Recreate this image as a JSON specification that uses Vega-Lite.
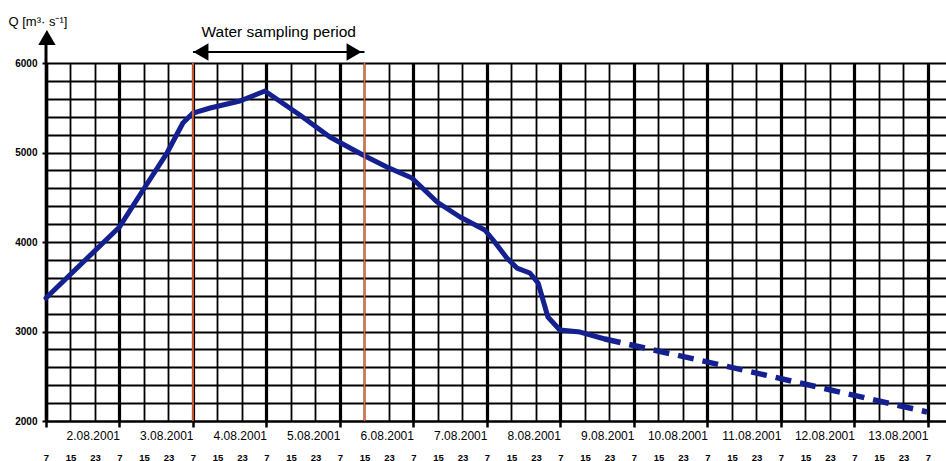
{
  "$schema": "https://vega.github.io/schema/vega-lite/v6.json",
  "autosize": "none",
  "width": 900,
  "height": 358,
  "padding": {"left": 46, "top": 63, "right": 0, "bottom": 40},
  "background": "white",
  "config": {"view": {"stroke": null}, "font": "Liberation Sans"},
  "datasets": {
    "solid": [
      {"h": 0, "q": 3374}, {"h": 24, "q": 4168}, {"h": 31.7, "q": 4581}, {"h": 39.5, "q": 4994},
      {"h": 44.7, "q": 5330}, {"h": 48, "q": 5441}, {"h": 53.6, "q": 5497}, {"h": 63.3, "q": 5575},
      {"h": 71.5, "q": 5687}, {"h": 82.9, "q": 5419}, {"h": 92.7, "q": 5173}, {"h": 103.5, "q": 4972},
      {"h": 111.3, "q": 4838}, {"h": 119.5, "q": 4715}, {"h": 127.7, "q": 4447}, {"h": 135.2, "q": 4279},
      {"h": 143.3, "q": 4134}, {"h": 146, "q": 4022}, {"h": 150.5, "q": 3821}, {"h": 153.8, "q": 3709},
      {"h": 158, "q": 3654}, {"h": 160.7, "q": 3542}, {"h": 163.9, "q": 3162}, {"h": 167.8, "q": 3017},
      {"h": 174.4, "q": 2994}, {"h": 182.5, "q": 2916}
    ],
    "dashed": [
      {"h": 182.5, "q": 2916}, {"h": 227.6, "q": 2570}, {"h": 287.7, "q": 2101}
    ],
    "sampling": [{"h": 48}, {"h": 104}],
    "span": [{"h": 48, "h2": 104, "q": 6123}],
    "heads": [
      {"h": 50.6, "q": 6123, "shape": "triangle-left"},
      {"h": 100.6, "q": 6123, "shape": "triangle-right"},
      {"h": 0.3, "q": 6285, "shape": "triangle-up"}
    ],
    "yarrow": [{"h": 0, "q": 6000, "q2": 6250}],
    "label": [{"h": 76, "q": 6290, "text": "Water sampling period"}]
  },
  "resolve": {"axis": {"x": "independent", "y": "independent"}},
  "layer": [
    {
      "data": {"name": "solid"},
      "mark": {"type": "line", "color": "#14208f", "strokeWidth": 5, "strokeJoin": "round", "strokeCap": "round"},
      "encoding": {
        "x": {"field": "h", "type": "quantitative",
          "scale": {"domain": [0, 293.9], "nice": false, "zero": false},
          "axis": {"orient": "bottom", "values": [0,8,16,24,32,40,48,56,64,72,80,88,96,104,112,120,128,136,144,152,160,168,176,184,192,200,208,216,224,232,240,248,256,264,272,280,288],
            "grid": true, "gridColor": "#000", "gridWidth": 1.8, "gridOpacity": 1,
            "domain": false, "ticks": false, "tickSize": 0, "labelPadding": 31, "labelBaseline": "top",
            "labelFont": "Liberation Sans", "labelFontSize": 9.5, "labelFontWeight": "bold", "labelColor": "#000",
            "labelAlign": "center", "labelOverlap": false, "labelFlush": false,
            "labelExpr": "datum.value % 24 == 0 ? '7' : (datum.value % 24 == 8 ? '15' : '23')",
            "title": null}},
        "y": {"field": "q", "type": "quantitative",
          "scale": {"domain": [2000, 6000], "nice": false, "zero": false},
          "axis": {"orient": "left", "values": [2000,2200,2400,2600,2800,3000,3200,3400,3600,3800,4000,4200,4400,4600,4800,5000,5200,5400,5600,5800,6000],
            "grid": true, "gridColor": "#000", "gridWidth": 1.8, "gridOpacity": 1,
            "domain": false, "ticks": false, "labels": false, "title": null}}
      }
    },
    {
      "data": {"name": "dashed"},
      "mark": {"type": "line", "color": "#14208f", "strokeWidth": 5.5, "strokeDash": [16, 9]},
      "encoding": {
        "x": {"field": "h", "type": "quantitative",
          "axis": {"orient": "bottom", "values": [0,24,48,72,96,120,144,168,192,216,240,264,288],
            "grid": true, "gridColor": "#000", "gridWidth": 3.2, "gridOpacity": 1,
            "domain": true, "domainColor": "#000", "domainWidth": 2,
            "ticks": true, "tickSize": 6, "tickWidth": 2.5, "tickColor": "#000",
            "labelPadding": 3, "labelBaseline": "top", "labelAlign": "right",
            "labelFont": "Liberation Sans", "labelFontSize": 12, "labelColor": "#000",
            "labelOverlap": false, "labelFlush": false,
            "labelExpr": "datum.value == 0 ? '' : (datum.value / 24 + 1) + '.08.2001'",
            "title": null}},
        "y": {"field": "q", "type": "quantitative",
          "axis": {"orient": "left", "values": [2000, 3000, 4000, 5000, 6000], "format": "d",
            "grid": false, "domain": true, "domainColor": "#000", "domainWidth": 3.5,
            "ticks": true, "tickSize": 4, "tickWidth": 2, "tickColor": "#000",
            "labelPadding": 5, "labelFont": "Liberation Sans", "labelFontSize": 10, "labelFontWeight": "bold", "labelColor": "#000",
            "labelOverlap": false, "labelFlush": false,
            "title": "Q [m³· s⁻¹]", "titleAngle": 0, "titleAlign": "left", "titleBaseline": "alphabetic",
            "titleX": -38, "titleY": -38, "titleFont": "Liberation Sans", "titleFontSize": 13, "titleFontWeight": "normal", "titleColor": "#000"}}
      }
    },
    {
      "data": {"name": "sampling"},
      "mark": {"type": "rule", "color": "#f26b3a", "strokeWidth": 1.6},
      "encoding": {"x": {"field": "h", "type": "quantitative", "axis": null}}
    },
    {
      "data": {"name": "span"},
      "mark": {"type": "rule", "color": "#000", "strokeWidth": 2},
      "encoding": {
        "x": {"field": "h", "type": "quantitative", "axis": null},
        "x2": {"field": "h2"},
        "y": {"field": "q", "type": "quantitative", "axis": null}
      }
    },
    {
      "data": {"name": "yarrow"},
      "mark": {"type": "rule", "color": "#000", "strokeWidth": 3},
      "encoding": {
        "x": {"field": "h", "type": "quantitative", "axis": null},
        "y": {"field": "q", "type": "quantitative", "axis": null},
        "y2": {"field": "q2"}
      }
    },
    {
      "data": {"name": "heads"},
      "mark": {"type": "point", "filled": true, "color": "#000", "opacity": 1, "size": 300},
      "encoding": {
        "x": {"field": "h", "type": "quantitative", "axis": null},
        "y": {"field": "q", "type": "quantitative", "axis": null},
        "shape": {"field": "shape", "type": "nominal", "scale": null, "legend": null}
      }
    },
    {
      "data": {"name": "label"},
      "mark": {"type": "text", "font": "Liberation Sans", "fontSize": 15.5, "color": "#000", "align": "center", "baseline": "alphabetic"},
      "encoding": {
        "x": {"field": "h", "type": "quantitative", "axis": null},
        "y": {"field": "q", "type": "quantitative", "axis": null},
        "text": {"field": "text"}
      }
    }
  ]
}
